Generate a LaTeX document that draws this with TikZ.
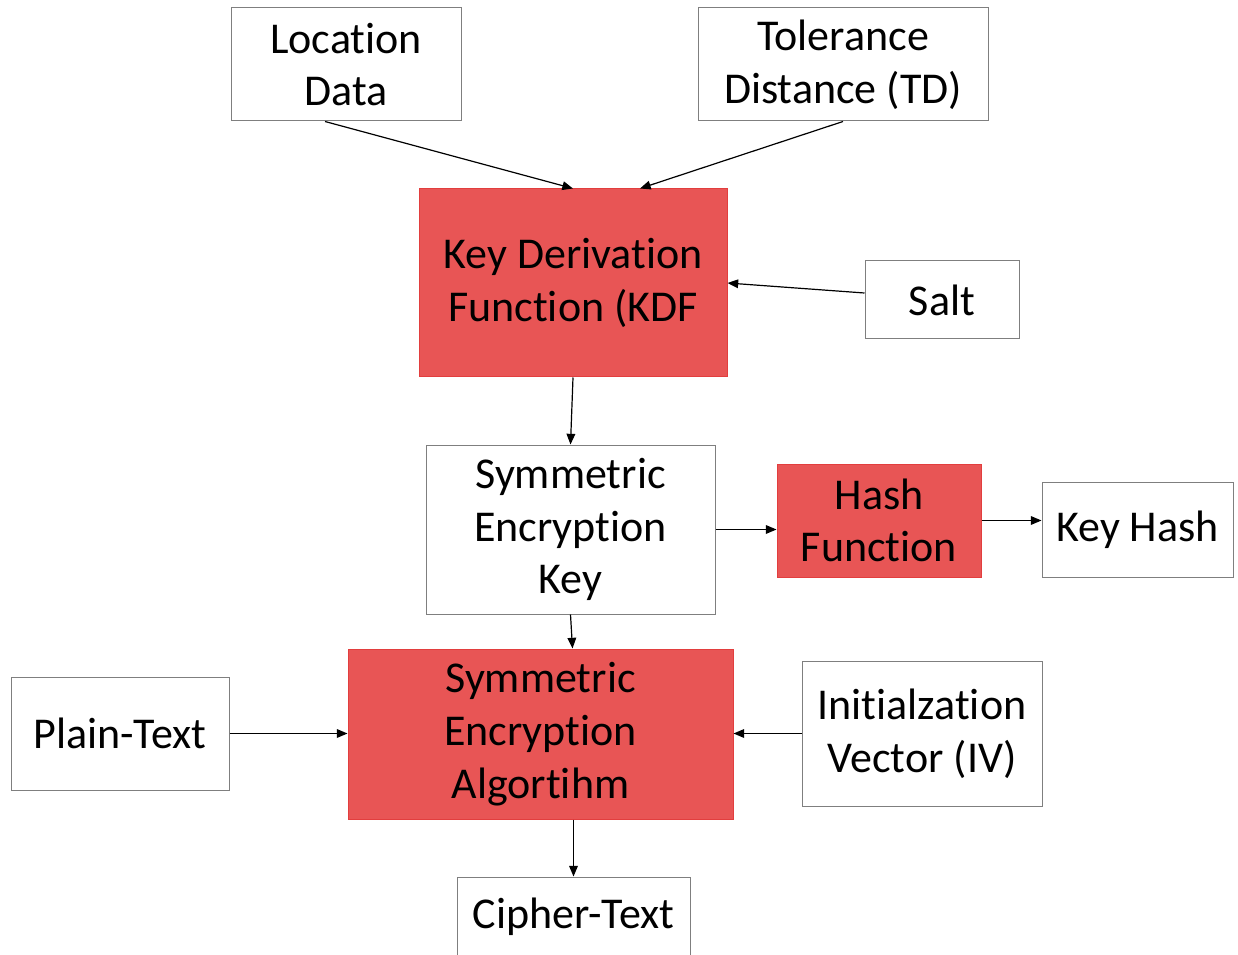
\documentclass[tikz,border=0pt]{standalone}
\usepackage{fontspec}
\setmainfont{Carlito}[Ligatures=CommonOff]
\usetikzlibrary{arrows.meta,calc}
\definecolor{boxred}{HTML}{E85555}
\definecolor{boxredline}{HTML}{E23E3E}
\definecolor{boxgray}{HTML}{7F7F7F}
\begin{document}
\begin{tikzpicture}[x=0.75pt,y=-0.75pt,
  every node/.style={font=\fontsize{33pt}{39.5pt}\selectfont, align=center, inner sep=0pt},
  plainbox/.style={draw=boxgray, line width=0.75pt, fill=white},
  redbox/.style={draw=boxredline, line width=0.75pt, fill=boxred},
  conn/.style={line width=0.9pt, -{Triangle[length=8pt,width=6.5pt]}}]
\useasboundingbox (0,0) rectangle (1238,955);
% input boxes
\node[plainbox, minimum width=172.5pt, minimum height=84.75pt] (loc) at (346,64.5) {Location\\Data};
\node[plainbox, minimum width=217.5pt, minimum height=84.75pt] (tol) at (843,64.5) {Tolerance\\Distance (TD)};
% key derivation
\node[redbox, minimum width=231pt, minimum height=141pt] (kdf) at (573,283) {Key Derivation\\Function (KDF};
\node[plainbox, minimum width=115.5pt, minimum height=58.5pt] (salt) at (942,300) {Salt};
% key and hash
\node[plainbox, minimum width=216.75pt, minimum height=126.75pt] (sek) at (570.5,529.5) {Symmetric\\Encryption\\Key};
\node[redbox, minimum width=153pt, minimum height=84.75pt] (hash) at (879,520.5) {Hash\\Function};
\node[plainbox, minimum width=143.25pt, minimum height=71.25pt] (khash) at (1137.5,529.5) {Key Hash};
% encryption
\node[redbox, minimum width=288.75pt, minimum height=127.5pt] (sea) at (540.5,734) {Symmetric\\Encryption\\Algortihm};
\node[plainbox, minimum width=163.5pt, minimum height=84.75pt] (plain) at (120,733.5) {Plain-Text};
\node[plainbox, minimum width=180pt, minimum height=108.75pt] (iv) at (922,733.5) {Initialzation\\Vector (IV)};
\node[plainbox, minimum width=174.75pt, minimum height=60pt] (cipher) at (573.5,917) {Cipher-Text};
% connectors
\draw[conn] ([xshift=-15.75pt]loc.south) -- (kdf.north);
\draw[conn] (tol.south) -- ([xshift=50.25pt]kdf.north);
\draw[conn] ([yshift=5.25pt]salt.west) -- (kdf.east);
\draw[conn] (kdf.south) -- (sek.north);
\draw[conn] (sek.east) -- (sek.east -| hash.west);
\draw[conn] (hash.east) -- (hash.east -| khash.west);
\draw[conn] (sek.south) -- ([xshift=24pt]sea.north);
\draw[conn] (plain.east) -- (plain.east -| sea.west);
\draw[conn] (iv.west) -- (iv.west -| sea.east);
\draw[conn] (cipher.north |- sea.south) -- (cipher.north);
\end{tikzpicture}
\end{document}
